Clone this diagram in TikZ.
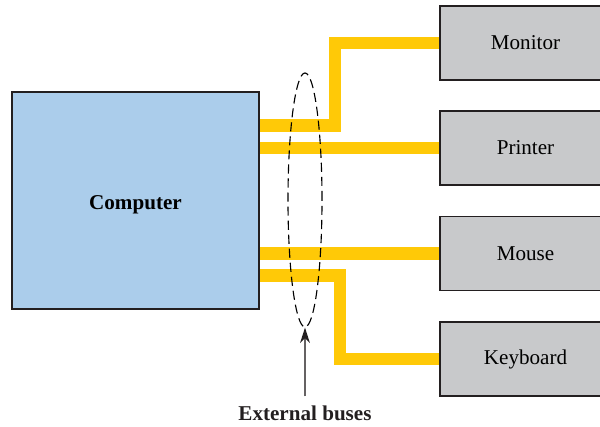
\documentclass[tikz,border=0pt]{standalone}
\usepackage{fontspec}
\setmainfont{Liberation Serif}
\usetikzlibrary{arrows.meta,shapes.geometric}
\definecolor{BusYellow}{HTML}{FFC907}
\definecolor{HostBlue}{HTML}{ABCDEB}
\definecolor{DevGray}{HTML}{C8C9CB}
\definecolor{EdgeDark}{HTML}{231F20}

\begin{document}
\begin{tikzpicture}[
    x=0.025cm, y=-0.025cm,
    box/.style={draw=EdgeDark, line width=1pt, fill=#1, inner sep=0pt,
        font=\fontsize{15}{18}\selectfont},
    devbox/.style={box=DevGray, minimum width=4.275cm, minimum height=1.85cm},
    bus/.style={draw=BusYellow, line width=0.3cm},
    >=Stealth
]
    \useasboundingbox (0,0) rectangle (600,427);

    % Computer
    \node[box=HostBlue, minimum width=6.175cm, minimum height=5.425cm,
        text height=17pt, text depth=3.5pt,
        font=\fontsize{15}{18}\selectfont\bfseries] (comp) at (135.5,200.5) {Computer};

    % Devices
    \node[devbox] (mon) at (525.5,43) {Monitor};
    \node[devbox] (prn) at (525.5,148) {Printer};
    \node[devbox] (mou) at (525.5,253.5) {Mouse};
    \node[devbox] (kbd) at (525.5,359) {Keyboard};

    % Bus ends on the computer
    \coordinate (b1) at (comp.east |- 0,125.5);
    \coordinate (b2) at (comp.east |- prn.west);
    \coordinate (b3) at (comp.east |- mou.west);
    \coordinate (b4) at (comp.east |- 0,275.5);

    % External buses
    \draw[bus] (b1) -- (334.5,125.5) |- (mon.west);
    \draw[bus] (b2) -- (prn.west);
    \draw[bus] (b3) -- (mou.west);
    \draw[bus] (b4) -- (340,275.5) |- (kbd.west);

    % Redraw box edges over the bus ends
    \draw[draw=EdgeDark, line width=1pt] (comp.north east) -- (comp.south east);
    \foreach \d in {mon,prn,mou,kbd}
        \draw[draw=EdgeDark, line width=1pt] (\d.north west) -- (\d.south west);

    % Group of buses
    \node[ellipse, draw=black, line width=0.8pt, dash pattern=on 6.5pt off 3.5pt,
        inner sep=0pt, minimum width=0.85cm, minimum height=6.35cm] (grp) at (305,200) {};

    % Label
    \node[font=\fontsize{15}{18}\selectfont\bfseries, text=EdgeDark] (lbl) at (305,413) {External buses};
    \draw[-{Stealth[length=11pt,width=7pt,color=EdgeDark]}, draw=EdgeDark!70, line width=1pt, shorten <=3pt]
        (lbl.north) -- (grp.south);
\end{tikzpicture}
\end{document}
